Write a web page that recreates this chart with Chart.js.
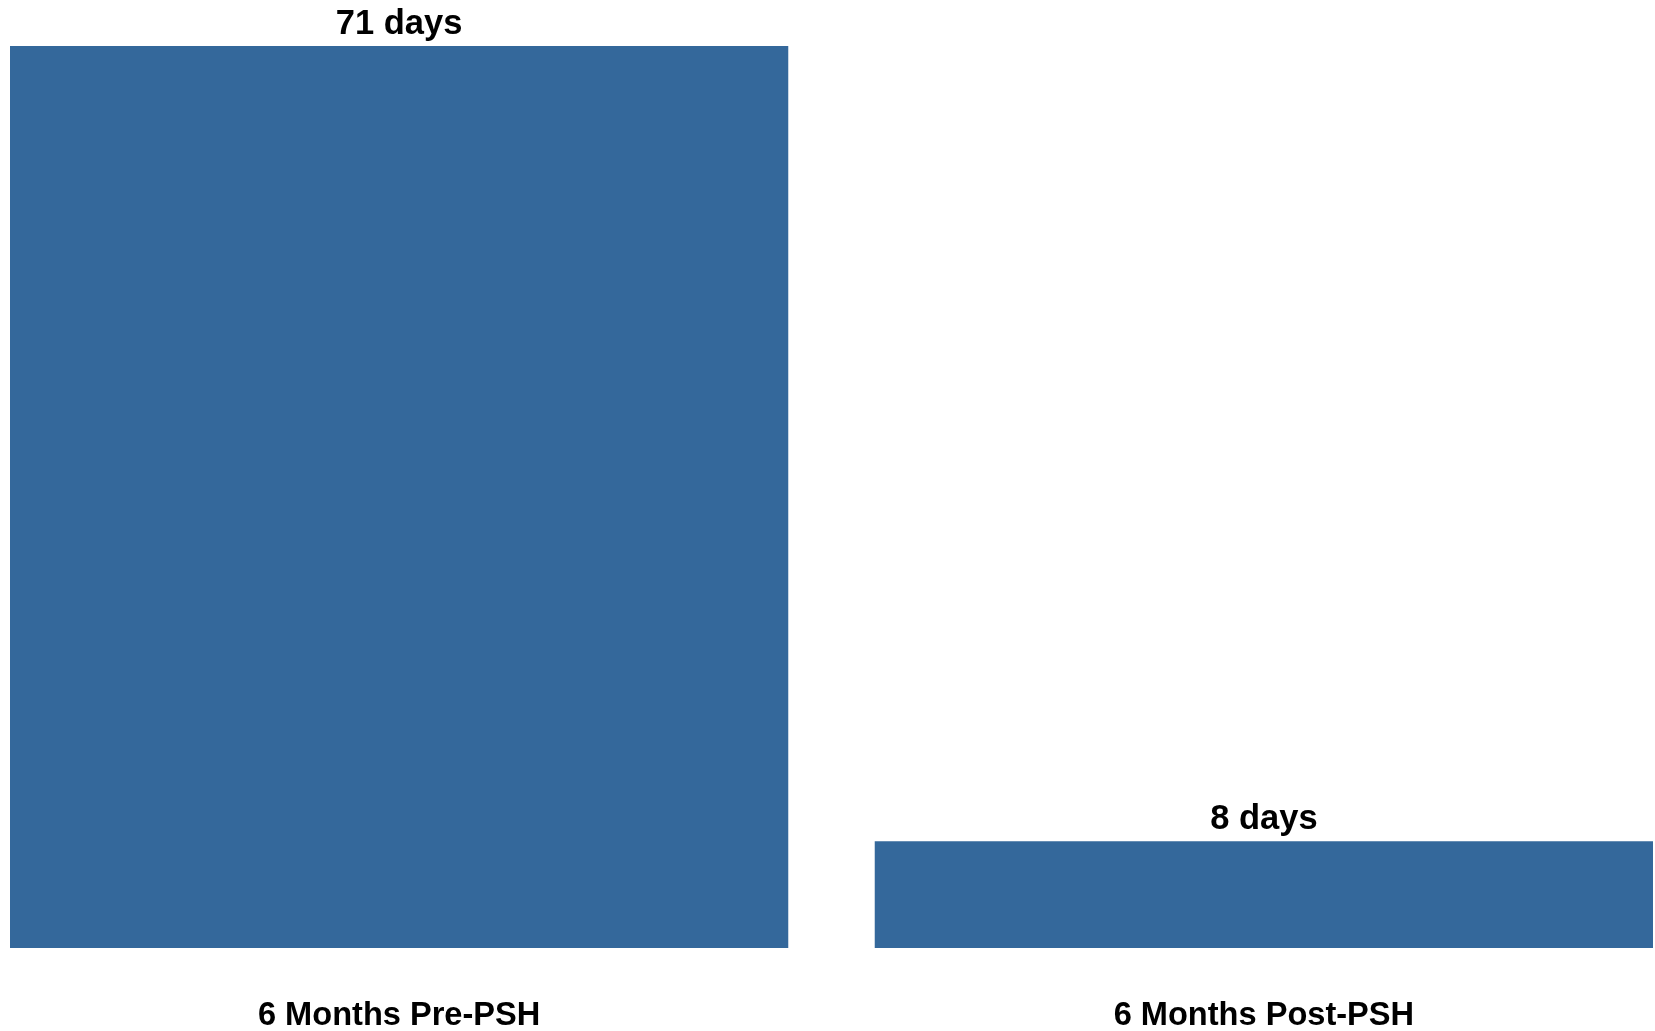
<!DOCTYPE html>
<html>
<head>
<meta charset="utf-8">
<script src="https://cdn.jsdelivr.net/npm/chart.js@4"></script>
<style>
html,body{margin:0;padding:0;background:#fff;}
canvas{display:block;}
</style>
</head>
<body>
<canvas id="c" width="1655" height="1031"></canvas>
<script>
const categories = ["6 Months Pre-PSH", "6 Months Post-PSH"];
const daysValues = [71, 8.4];
const valueLabels = ["71 days", "8 days"];

const FONT = "'Liberation Sans', Arial, sans-serif";

const valueLabelPlugin = {
  id: 'valueLabels',
  afterDatasetsDraw(chart) {
    const ctx = chart.ctx;
    const meta = chart.getDatasetMeta(0);
    ctx.save();
    ctx.font = "bold 34.5px " + FONT;
    ctx.fillStyle = '#000';
    ctx.textAlign = 'center';
    ctx.textBaseline = 'alphabetic';
    meta.data.forEach((bar, i) => {
      ctx.fillText(valueLabels[i], bar.x, bar.y - 12);
    });
    ctx.restore();
  }
};

new Chart(document.getElementById('c'), {
  type: 'bar',
  data: {
    datasets: [{
      data: categories.map((c, i) => ({ x: i + 1, y: daysValues[i] })),
      backgroundColor: '#34689B',
      borderWidth: 0,
      categoryPercentage: 0.9,
      barPercentage: 1.0
    }]
  },
  options: {
    responsive: false,
    animation: false,
    layout: { padding: { top: 46, left: 10, right: 2, bottom: 0 } },
    plugins: { legend: { display: false }, tooltip: { enabled: false } },
    scales: {
      x: {
        type: 'linear',
        offset: false,
        min: 0.55,
        max: 2.45,
        grid: { display: false, drawTicks: false, offset: false },
        border: { display: false },
        afterBuildTicks: (s) => { s.ticks = categories.map((c, i) => ({ value: i + 1 })); },
        afterFit: (s) => { s.height = 83; },
        ticks: {
          padding: 52,
          color: '#000',
          font: { family: FONT, size: 32.6, weight: 'bold', lineHeight: 1 },
          maxRotation: 0,
          callback: (v) => categories[Math.round(v) - 1]
        }
      },
      y: {
        display: false,
        min: 0,
        max: 71
      }
    }
  },
  plugins: [valueLabelPlugin]
});
</script>
</body>
</html>
